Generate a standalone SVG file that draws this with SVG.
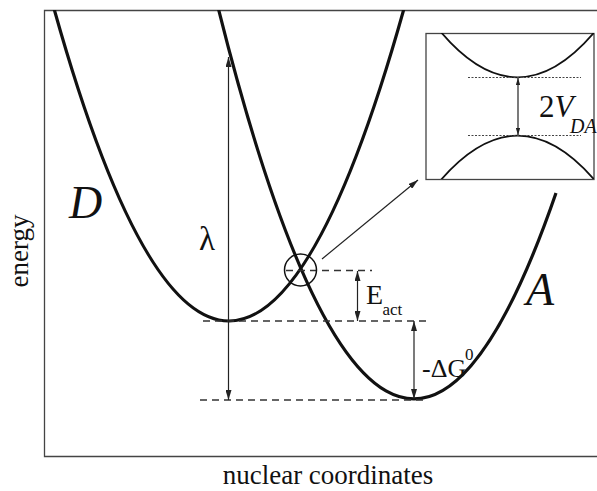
<svg xmlns="http://www.w3.org/2000/svg" width="597" height="491" viewBox="0 0 597 491">
<style>
.curve{fill:none;stroke:#111;stroke-width:3.2}
.dash{fill:none;stroke:#333;stroke-width:1.3;stroke-dasharray:7 5}
.dot{fill:none;stroke:#444;stroke-width:1;stroke-dasharray:2 1.5}
.arr{fill:none;stroke:#222;stroke-width:1.2}
.frame{fill:none;stroke:#444;stroke-width:1.3}
.t{font-family:"Liberation Serif","Times New Roman",serif;fill:#111}
.it{font-style:italic}
</style>
<defs>
<marker id="ah" viewBox="0 0 10 6" refX="10" refY="3" markerWidth="10" markerHeight="6" markerUnits="userSpaceOnUse" orient="auto-start-reverse">
<path d="M0,0 L10,3 L0,6 Z" fill="#222"/>
</marker>
<marker id="ahs" viewBox="0 0 8 5" refX="8" refY="2.5" markerWidth="7" markerHeight="4.5" markerUnits="userSpaceOnUse" orient="auto-start-reverse">
<path d="M0,0 L8,2.5 L0,5 Z" fill="#222"/>
</marker>
<clipPath id="fr"><rect x="44" y="10" width="553" height="447"/></clipPath>
<clipPath id="ins"><rect x="426" y="33" width="168" height="146"/></clipPath>
</defs>
<rect x="0" y="0" width="597" height="491" fill="#fff"/>
<path class="frame" d="M597,10.5 H44.5 V456.5 H597"/>

<g id="curve-D" clip-path="url(#fr)">
<path class="curve" d="M49,-9.5 Q229,651.5 409,-9.5"/>
</g>
<g id="curve-A" clip-path="url(#fr)">
<path class="curve" d="M216,-0.9 Q386,685.8 556,193"/>
</g>

<g id="levels">
<path class="dash" d="M286,270.5 H372"/>
<path class="dash" d="M203,321 H431"/>
<path class="dash" d="M200,400 H428"/>
</g>

<g id="crossing">
<circle cx="300.5" cy="270" r="16" fill="none" stroke="#111" stroke-width="1.5"/>
</g>

<g id="connectors">
<line class="arr" x1="228.5" y1="57" x2="228.5" y2="400" marker-start="url(#ah)" marker-end="url(#ah)"/>
<line class="arr" x1="357.5" y1="271" x2="357.5" y2="321" marker-start="url(#ah)" marker-end="url(#ah)"/>
<line class="arr" x1="414" y1="321" x2="414" y2="399" marker-start="url(#ah)" marker-end="url(#ah)"/>
<line class="arr" x1="322" y1="259" x2="418" y2="180" marker-end="url(#ah)"/>
</g>

<g id="inset">
<rect x="426" y="33.5" width="168" height="146" fill="#fff" stroke="#444" stroke-width="1.3"/>
<g clip-path="url(#ins)">
<path fill="none" stroke="#111" stroke-width="1.8" d="M440,31 Q517.7,123.6 595.4,31"/>
<path fill="none" stroke="#111" stroke-width="1.8" d="M440,181 Q517.7,90.4 595.4,181"/>
</g>
<path class="dot" d="M468,77.5 H581"/>
<path class="dot" d="M468,135.5 H581"/>
<line class="arr" x1="518" y1="78" x2="518" y2="135" marker-start="url(#ahs)" marker-end="url(#ahs)"/>
<text class="t" x="539" y="116.5" font-size="31">2<tspan class="it">V</tspan></text>
<text class="t it" x="570" y="133" font-size="20">DA</text>
</g>

<g id="labels">
<text class="t it" x="69" y="218" font-size="46">D</text>
<text class="t it" x="526" y="305" font-size="46">A</text>
<text class="t" x="199" y="250" font-size="33">λ</text>
<text class="t" x="366" y="304" font-size="28">E</text>
<text class="t" x="382.5" y="315" font-size="17">act</text>
<text class="t" x="422" y="377" font-size="26">-ΔG</text>
<text class="t" x="465" y="360" font-size="17">0</text>
<text class="t" x="328" y="484" font-size="27" text-anchor="middle">nuclear coordinates</text>
<text class="t" transform="translate(28,251) rotate(-90)" font-size="27" text-anchor="middle">energy</text>
</g>
</svg>
